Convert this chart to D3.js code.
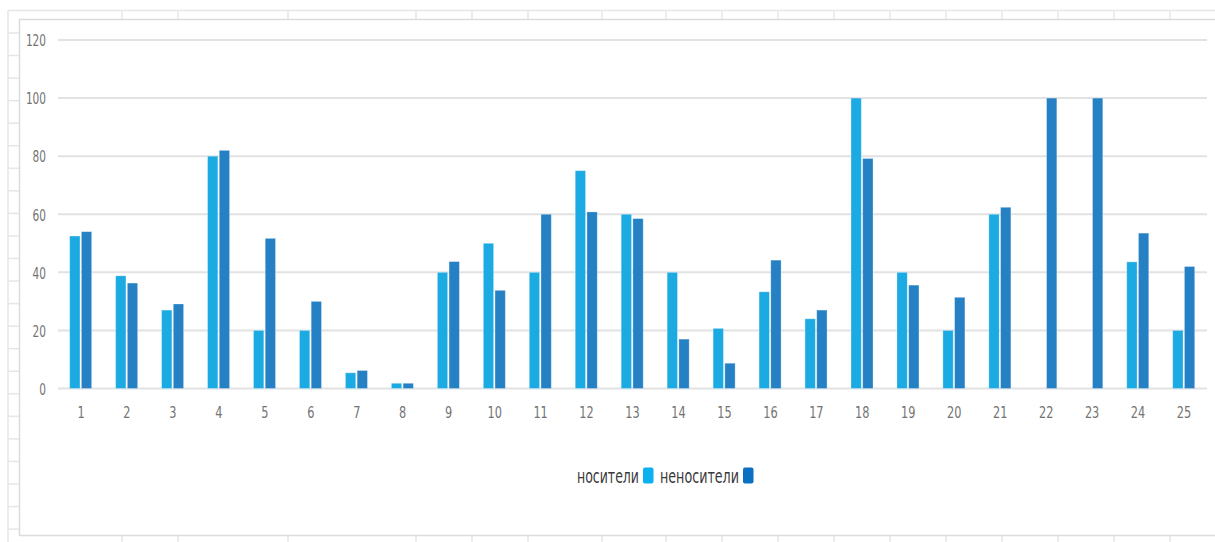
<!DOCTYPE html>
<html>
<head>
<meta charset="utf-8">
<script src="https://cdn.jsdelivr.net/npm/d3@7"></script>
<style>
  html, body { margin: 0; padding: 0; background: #ffffff; }
  svg { display: block; }
  .tick-label { font-family: "Liberation Sans Narrow", "DejaVu Sans Condensed", "Arial Narrow", sans-serif; fill: #737373; }
  .legend-label { font-family: "Liberation Sans Narrow", "DejaVu Sans Condensed", "Arial Narrow", sans-serif; fill: #3a3a3a; }
</style>
</head>
<body>
<svg id="chart" width="1215" height="542"></svg>
<script>
// Categories along the x axis
const categories = ["1","2","3","4","5","6","7","8","9","10","11","12","13","14","15","16","17","18","19","20","21","22","23","24","25"];

// Series names (legend) and their values per category
const seriesNames = ["носители", "неносители"];
const carriers    = [52.5, 38.8, 27, 80, 20, 20, 5.4, 1.8, 40, 50, 40, 75, 60, 40, 20.7, 33.3, 24, 100, 40, 20, 60, 0, 0, 43.6, 20];
const nonCarriers = [54, 36.3, 29.1, 82, 51.7, 30, 6.2, 1.8, 43.7, 33.8, 60, 60.8, 58.5, 17, 8.7, 44.2, 27, 79.2, 35.6, 31.4, 62.4, 100, 100, 53.5, 42];

// Value axis ticks
const yTicks = [0, 20, 40, 60, 80, 100, 120];

// Spreadsheet column separators behind the chart
const sheetColumns = [122, 178, 288, 416, 472, 528, 602, 666, 722, 778, 834, 890, 946, 1002, 1058, 1114, 1170];

const barColors = ["#1caae2", "#2581c4"];
const legendColors = ["#0bb0ef", "#0b6fc2"];

const svg = d3.select("#chart");

// ---- spreadsheet background ----
const sheet = svg.append("g").attr("stroke", "#e6e6e6").attr("stroke-width", 1.5).attr("fill", "none");
sheet.append("line").attr("x1", 8).attr("x2", 1215).attr("y1", 10.5).attr("y2", 10.5);
sheet.append("line").attr("x1", 8).attr("x2", 8).attr("y1", 10.5).attr("y2", 542);
// row separators in the left header column
d3.range(33, 542, 22.55).forEach(y => {
  sheet.append("line").attr("x1", 8).attr("x2", 19.5).attr("y1", y).attr("y2", y);
});
// column separators above and below the chart frame
sheetColumns.forEach(x => {
  sheet.append("line").attr("x1", x).attr("x2", x).attr("y1", 10.5).attr("y2", 19.5);
  sheet.append("line").attr("x1", x).attr("x2", x).attr("y1", 535.5).attr("y2", 542);
});

// ---- chart frame ----
svg.append("rect")
  .attr("x", 19.5).attr("y", 19.5)
  .attr("width", 1215).attr("height", 516)
  .attr("fill", "#ffffff")
  .attr("stroke", "#dcdcdc").attr("stroke-width", 1.5);

// ---- scales ----
const x = d3.scaleBand().domain(categories).range([58, 1207]).padding(0);
const y = d3.scaleLinear().domain([0, 120]).range([388.5, 40]);
const inner = d3.scaleBand().domain(seriesNames).range([0, 22]).paddingInner(0.12);

// ---- gridlines ----
svg.append("g")
  .selectAll("line")
  .data(yTicks)
  .join("line")
  .attr("x1", 58).attr("x2", 1207)
  .attr("y1", d => y(d)).attr("y2", d => y(d))
  .attr("stroke", "#e2e2e2").attr("stroke-width", 2);

// ---- y axis labels (narrow digits) ----
const yAxis = d3.axisLeft(y).tickValues(yTicks).tickSize(0).tickPadding(0);
const yG = svg.append("g").attr("transform", "translate(46,0)").call(yAxis);
yG.select(".domain").remove();
yG.selectAll("text")
  .attr("class", "tick-label")
  .attr("font-size", 16)
  .attr("dy", "0.36em")
  .attr("dx", 0)
  .attr("textLength", function () { return this.textContent.length * 6.7; })
  .attr("lengthAdjust", "spacingAndGlyphs");

// ---- x axis labels ----
const xAxis = d3.axisBottom(x).tickSize(0).tickPadding(0);
const xG = svg.append("g").attr("transform", "translate(0,404)").call(xAxis);
xG.select(".domain").remove();
xG.selectAll("text")
  .attr("class", "tick-label")
  .attr("font-size", 16)
  .attr("dy", "0.9em")
  .attr("textLength", function () { return this.textContent.length * 7.2; })
  .attr("lengthAdjust", "spacingAndGlyphs");

// ---- bars ----
const rows = categories.map((c, i) => ({ cat: c, values: [carriers[i], nonCarriers[i]] }));
const groups = svg.append("g")
  .selectAll("g")
  .data(rows)
  .join("g")
  .attr("transform", d => `translate(${x(d.cat) + x.bandwidth() / 2 - 11.3},0)`);

groups.selectAll("rect")
  .data(d => d.values.map((v, k) => ({ name: seriesNames[k], value: v, k })))
  .join("rect")
  .filter(d => d.value > 0)
  .attr("x", d => inner(d.name))
  .attr("width", inner.bandwidth())
  .attr("y", d => y(d.value))
  .attr("height", d => y(0) - y(d.value))
  .attr("fill", d => barColors[d.k])
  .attr("stroke", "rgba(255,255,255,0.35)")
  .attr("stroke-width", 0.8);

// ---- legend ----
const legendItems = [
  { name: seriesNames[0], tx: 577, tw: 62, sx: 643 },
  { name: seriesNames[1], tx: 660, tw: 79, sx: 743 }
];
const lg = svg.append("g");
legendItems.forEach((it, k) => {
  lg.append("text")
    .attr("class", "legend-label")
    .attr("x", it.tx).attr("y", 482.5)
    .attr("font-size", 19)
    .attr("textLength", it.tw)
    .attr("lengthAdjust", "spacingAndGlyphs")
    .text(it.name);
  lg.append("rect")
    .attr("x", it.sx).attr("y", 467.5)
    .attr("width", 10.5).attr("height", 16)
    .attr("rx", 2)
    .attr("fill", legendColors[k]);
});
</script>
</body>
</html>
